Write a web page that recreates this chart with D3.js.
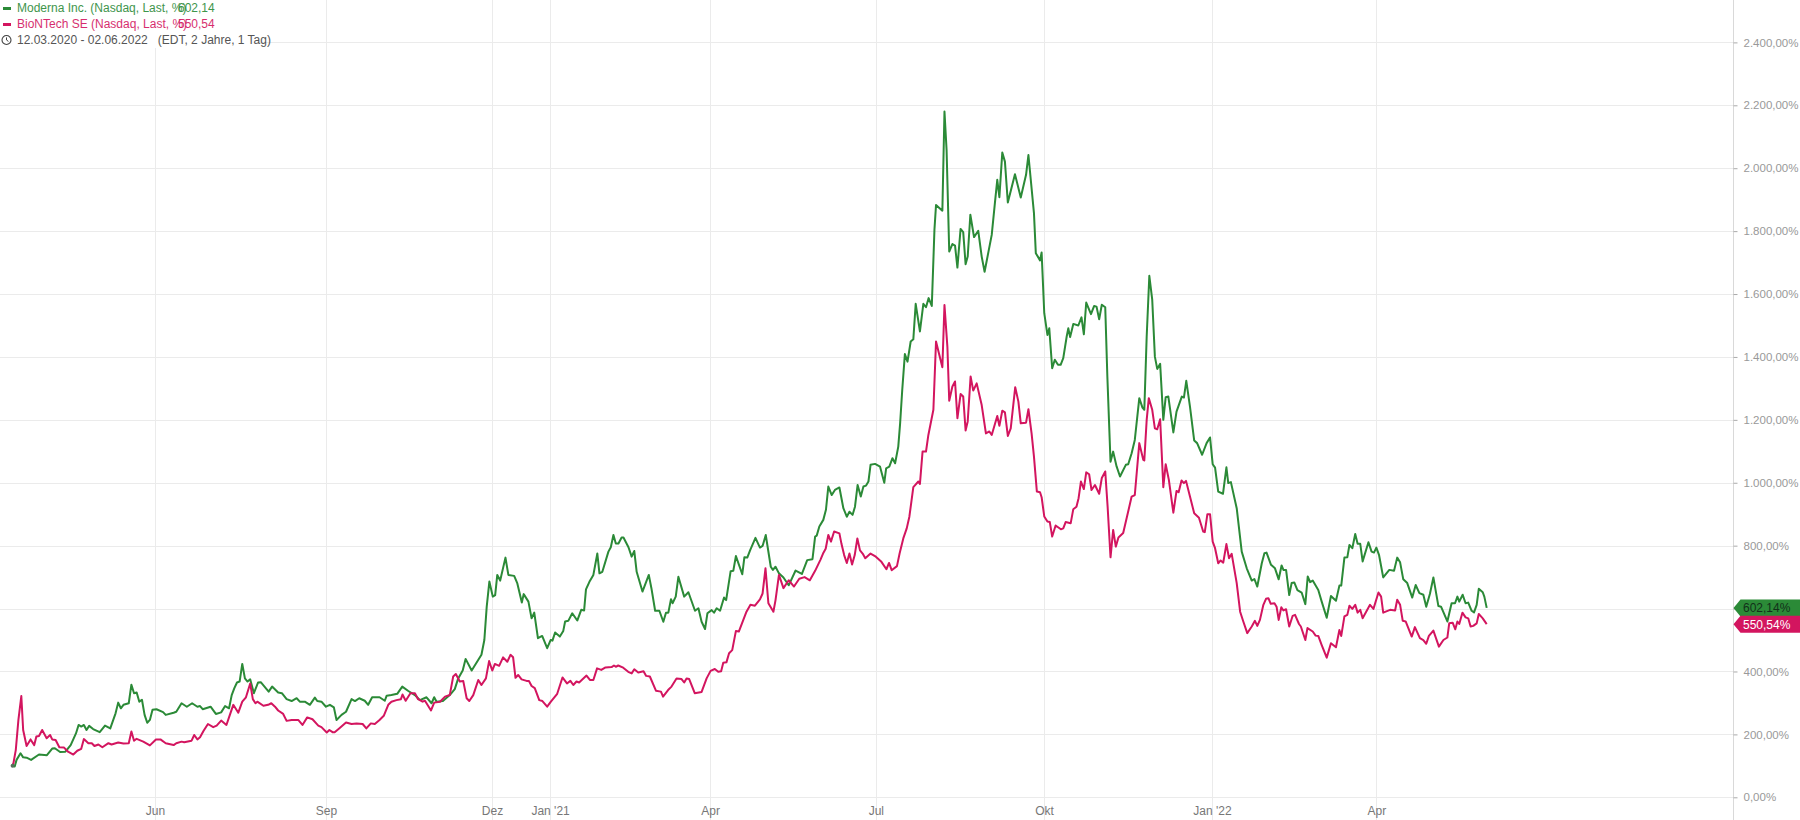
<!DOCTYPE html>
<html>
<head>
<meta charset="utf-8">
<title>Moderna / BioNTech</title>
<script src="https://cdn.jsdelivr.net/npm/d3@7"></script>
<style>
  html, body { margin: 0; padding: 0; background: #fff; }
  svg { display: block; font-family: "Liberation Sans", Arial, sans-serif; }
</style>
</head>
<body>
<div id="chart"></div>
<script>
// values: [trading day since 12.03.2020, percent]
var moderna = [[0,100],[0.8,98],[1.5,119],[3,140],[4,127],[5.3,126],[7,119],[10,136],[13,134],[15,155],[16,156],[18,144],[20,145],[22,166],[24,203],[25,230],[26,225],[27,230],[28,214],[29,227],[30.5,217],[33,207],[35,228],[37,219],[39,267],[40,301],[41,283],[42,294],[44,299],[45,358],[46,331],[47,333],[48,304],[49,310],[50,262],[51,237],[52,246],[53,278],[54.5,280],[57,271],[58,262],[61,269],[62,272],[64,299],[66,288],[68,299],[70,288],[71,290],[72,280],[75,288],[77,265],[79,270],[80.5,290],[82,283],[83,325],[84,347],[85,365],[86,368],[87,424],[88,378],[89,368],[90,375],[91.4,331],[93,365],[94,366],[97,336],[98.3,352],[100.6,333],[102,331],[103.8,312],[105.7,306],[107.6,315],[108.8,304],[110.7,304],[112.6,294],[114.5,317],[115.4,306],[117,304],[118.7,288],[120.2,294],[121.7,286],[122.7,246],[124.6,262],[126.3,272],[128.4,312],[129.7,306],[131.3,315],[133.4,307],[134.7,294],[136.2,318],[139,318],[141,307],[141.7,323],[143.5,325],[145.7,329],[147.6,352],[149.9,338],[152.4,325],[154.3,309],[156.8,318],[158.7,299],[159.7,318],[160.6,304],[163,306],[165.6,325],[167.5,344],[168.8,378],[170.5,403],[171.6,440],[173.9,403],[177.6,453],[178.7,500],[179.6,606],[180.6,686],[181.9,638],[182.8,643],[183.6,707],[184.7,689],[186.7,762],[187.8,707],[190,704],[191.2,680],[192.9,619],[193.6,646],[195.4,622],[196.6,569],[197.6,587],[199,506],[200.6,513],[202.5,474],[203.8,500],[204.5,498],[205.5,524],[207.3,511],[208.6,529],[209.3,559],[210.5,561],[212,585],[213.9,562],[215.4,596],[216.5,594],[217.2,661],[218.5,685],[220,707],[221.5,775],[222.3,712],[223.4,717],[225.7,781],[226.6,795],[227.6,834],[228.5,807],[229.5,807],[230.7,826],[231.4,826],[233.3,795],[234.5,765],[235.5,783],[236.4,717],[238.6,654],[241,707],[242,664],[243.4,593],[245,593],[246.5,558],[247.5,587],[248.4,587],[249.4,630],[250,617],[251.2,638],[252.2,701],[254.4,638],[256,652],[258.5,593],[259.8,601],[261,558],[262.3,535],[263.2,585],[264.8,595],[265.7,587],[266.7,601],[268,593],[269.5,635],[270.3,627],[272,719],[273,720],[274,767],[276.4,709],[277.2,763],[278.3,762],[279.4,786],[281.4,825],[283.1,794],[284.1,799],[285.3,834],[287.2,733],[288,723],[289,733],[290.3,712],[292,699],[294,674],[296.6,721],[299,710],[301,754],[303,757],[304,829],[304.6,832],[305.6,861],[307.1,882],[308.1,914],[309,988],[310.3,961],[311.5,977],[313.2,985],[314.7,919],[316,892],[317,908],[318.2,898],[319.1,924],[320.1,993],[321.3,956],[322.3,988],[323.3,991],[324.2,1004],[325,1057],[326.7,1060],[328.6,1051],[330.2,1000],[330.9,1046],[332.1,1051],[333.3,1078],[334.3,1062],[335.5,1115],[336.2,1189],[337,1295],[338,1409],[339,1385],[340.2,1449],[341.2,1456],[342.1,1569],[343.7,1481],[345,1569],[346,1558],[347,1587],[348.2,1562],[349.2,1804],[349.8,1883],[352.2,1865],[353,2180],[353.8,2058],[354.8,1735],[356,1759],[357,1754],[357.9,1684],[359.1,1807],[360.1,1797],[361,1695],[361.8,1719],[362.8,1852],[364.2,1781],[365.8,1801],[367.1,1719],[368.2,1671],[370.9,1788],[372.1,1889],[373,1963],[373.8,1908],[374.9,2050],[375.9,2021],[377,1891],[379.7,1981],[381.9,1907],[383.9,1979],[384.8,2042],[386.9,1857],[387.6,1730],[389.2,1707],[389.8,1732],[390.8,1539],[392,1470],[392.7,1491],[393.8,1364],[394.8,1391],[396,1375],[397,1375],[398,1396],[399.3,1465],[399.9,1491],[400.6,1463],[401.8,1505],[403.7,1500],[404.9,1526],[405.8,1472],[406.7,1573],[408.5,1536],[409.7,1562],[410.6,1560],[411.6,1520],[412.6,1566],[413.9,1558],[414.7,1338],[415.9,1067],[416.9,1099],[418.2,1052],[419.5,1020],[421.7,1057],[422.6,1059],[423.9,1094],[425.1,1136],[426.8,1269],[428,1239],[428.7,1232],[429.6,1465],[430.6,1658],[431.7,1582],[432.7,1401],[433.6,1362],[434.7,1378],[435.9,1200],[436.8,1272],[437.8,1274],[439.7,1160],[440.9,1226],[442.9,1274],[443.7,1271],[444.6,1324],[446,1242],[447.6,1134],[448.7,1126],[450.6,1089],[452.3,1126],[453.6,1144],[454.6,1059],[455.5,1048],[456.7,972],[458.5,965],[459.8,1049],[460.5,999],[461.5,1002],[463.7,919],[465.6,781],[467.5,728],[469.4,689],[470.4,694],[471.5,670],[473.2,744],[474.2,776],[475,778],[476.7,739],[478.2,728],[479.6,693],[480.7,737],[481.4,723],[482.4,723],[483.6,643],[484.5,681],[485.5,683],[486.7,659],[488.3,651],[489.7,614],[490.6,702],[491.5,684],[492.5,689],[494.6,659],[495.9,622],[497.8,571],[499.4,640],[501.3,625],[502.6,673],[503.3,673],[504.5,762],[505.6,763],[506.4,802],[507.5,792],[508.6,837],[509.5,806],[510.5,806],[511.4,750],[513.6,811],[514.8,781],[515.7,778],[516.6,794],[517.6,771],[519.2,699],[521.5,723],[523.3,720],[524.5,762],[525.6,747],[526.8,693],[528.3,681],[530.2,635],[531.5,675],[532.9,649],[534.4,644],[535.5,606],[536.9,647],[538.2,699],[540.1,608],[541.1,606],[543.5,559],[545.1,617],[546.4,617],[547.3,638],[548,622],[549.3,644],[550.4,617],[551.4,619],[552.7,593],[553.6,588],[554.6,612],[555.4,663],[556.9,652],[557.5,638],[558.4,602.14]];

var biontech = [[0,100],[0.3,108],[1.2,150],[2.2,246],[3.3,322],[4,214],[5.3,163],[6.8,184],[8.2,166],[9,193],[10,195],[11.2,214],[12.9,188],[14.2,198],[15,184],[16.3,182],[17.7,159],[19.5,158],[21,145],[23,136],[24.5,148],[26,154],[27,185],[28.7,172],[30,172],[31,163],[32.5,168],[34,159],[36.3,172],[37.5,168],[40,174],[42,171],[44,172],[45,209],[46,180],[47,186],[49.5,177],[52,165],[54.3,184],[56,184],[58,172],[61,166],[62,172],[64,177],[65,175],[67.8,180],[68.8,198],[70,184],[71,191],[72.3,211],[74,233],[76,223],[77.3,228],[79,244],[81,230],[82.3,262],[83.6,294],[85.5,269],[87,304],[88.4,318],[90,362],[91,312],[92,299],[92.7,304],[95,291],[96.8,294],[98,299],[99.4,288],[100.6,276],[102.5,265],[103.8,243],[105.7,246],[107,246],[108.2,246],[109.8,230],[111.6,254],[113.6,248],[115.8,228],[117,223],[119,206],[120,214],[121.2,207],[122,207],[123.7,219],[126.3,238],[128.4,233],[130.3,235],[132.6,233],[134,219],[135.7,235],[137.2,233],[139,246],[140.6,259],[142.3,294],[143.5,304],[145.4,309],[147.1,312],[147.7,327],[148.9,307],[150.7,331],[152.4,331],[153.6,312],[155.3,304],[156.2,307],[158.5,276],[159.7,301],[161.9,304],[163.8,320],[165.6,325],[166.9,384],[167.9,392],[169.4,368],[170.7,370],[172,315],[173,306],[174.5,325],[176.4,373],[177.6,357],[179.3,378],[180.5,433],[181.7,403],[182.7,424],[184.3,418],[185.8,445],[187.4,431],[188.6,453],[189.6,445],[190.5,380],[191.5,389],[192.8,375],[194.7,370],[195.6,370],[196.6,354],[197.8,347],[199.5,309],[200.7,306],[202.5,288],[203.9,304],[206.3,329],[208.3,381],[210,362],[211.3,370],[212.4,357],[213.6,368],[214.6,365],[217.4,387],[218.7,373],[220,373],[221.4,410],[223,405],[224.6,413],[226.9,414],[227.8,419],[228.5,415],[229.4,419],[231.3,412],[233.2,399],[234.5,394],[235.5,407],[237,397],[239,401],[240,386],[241.4,384],[243.7,339],[245.6,336],[246.4,320],[248.3,341],[249.6,352],[251.5,378],[253.4,376],[254.4,365],[255.3,378],[256.3,376],[258.4,331],[261,335],[262.9,378],[264.4,402],[266,408],[267.3,399],[268.4,401],[269.2,428],[270.4,429],[271.4,458],[272.6,468],[274,529],[275.1,527],[278,590],[279.5,612],[281.2,609],[283.1,629],[284.1,648],[285.2,728],[286.3,617],[288.2,590],[289,627],[290.3,707],[292,665],[294,690],[296,670],[298,695],[300,700],[302,690],[304,720],[306,755],[307,775],[308,790],[309,834],[310,813],[311.2,845],[313.2,839],[314,805],[315,770],[316,745],[317,775],[318,740],[319,770],[320,823],[321,785],[322,775],[323,760],[325,775],[327,765],[329,750],[331,725],[332,745],[333,722],[335,735],[336,775],[337.4,823],[338.7,855],[339.7,892],[341.2,986],[343.1,1004],[343.7,996],[344.7,1099],[346,1099],[346.9,1152],[348.8,1232],[349.8,1449],[352.2,1367],[353,1565],[354.1,1433],[354.8,1261],[356,1306],[357,1322],[357.9,1205],[359.1,1282],[360.1,1274],[361,1166],[361.8,1195],[362.9,1338],[363.9,1293],[365.2,1316],[367.1,1247],[368.7,1157],[370,1163],[370.9,1152],[373,1212],[373.8,1181],[374.9,1229],[375.9,1224],[377,1149],[378.1,1173],[379.8,1304],[381,1258],[381.9,1189],[383.9,1191],[384.8,1234],[386,1157],[386.9,1083],[388,972],[389.2,970],[389.8,954],[390.8,893],[392,877],[392.9,875],[393.8,829],[395.1,864],[397.1,852],[398,855],[398.9,875],[400.8,871],[401.8,916],[403,924],[403.8,951],[404.7,1004],[405.8,980],[406.7,1033],[407.8,1027],[408.7,977],[410,993],[411.6,965],[412.6,1015],[413.9,1036],[414.8,924],[415.9,763],[416.9,850],[417.9,797],[418.9,826],[420.7,840],[423.9,956],[425.1,961],[426.8,1126],[428.3,1073],[428.7,1071],[429.6,1200],[430.4,1269],[431.7,1232],[432.7,1173],[433.6,1170],[434.7,1202],[435.9,986],[436.8,1059],[438,1009],[439.7,905],[440.9,974],[441.7,970],[442.8,1007],[443.7,999],[444.5,1006],[446,956],[447.6,903],[449.4,889],[451,845],[451.6,843],[452.6,900],[453.6,900],[454.6,813],[455.5,792],[456.7,744],[457.6,753],[458.6,746],[459.8,805],[460.8,760],[461.8,774],[463.7,681],[465,590],[466.2,559],[467.7,522],[469.4,543],[470.6,561],[471.5,545],[472.5,564],[473.8,612],[474.8,631],[475.7,633],[476.6,615],[478,617],[478.8,606],[479.6,564],[480.6,604],[481.4,594],[482.4,598],[483.6,543],[484.9,577],[485.8,580],[487.3,551],[488,543],[489.7,500],[490.5,538],[492.5,527],[493.6,514],[494.6,513],[495.9,484],[497.8,444],[499.4,490],[501.3,477],[502.6,532],[503.3,513],[504.5,575],[505.6,580],[506.4,609],[507.5,599],[508.6,612],[509.5,587],[510.5,596],[511.4,569],[514.2,612],[515.5,599],[517.4,651],[518.4,638],[519.2,587],[521.8,596],[523.7,594],[524.5,628],[525.6,612],[526.6,561],[527.7,559],[530,511],[531.2,541],[533.1,506],[534.4,500],[535.5,488],[536.5,513],[538.2,530],[540.3,479],[542,500],[543.5,508],[544.2,553],[545.5,555],[546.5,534],[547.3,559],[548,551],[549.2,587],[550.4,572],[551.4,569],[552.3,543],[553.3,545],[554.6,553],[555.4,583],[556.9,569],[558.4,550.54]];

var yTicks = [0, 200, 400, 600, 800, 1000, 1200, 1400, 1600, 1800, 2000, 2200, 2400];
var xTickDays = [53.9, 118.7, 181.6, 203.6, 264.2, 327, 390.7, 454.3, 516.6];
var xTickLabels = ["Jun", "Sep", "Dez", "Jan '21", "Apr", "Jul", "Okt", "Jan '22", "Apr"];
var lastValues = [602.14, 550.54];
var seriesNames = ["Moderna Inc. (Nasdaq, Last, %)", "BioNTech SE (Nasdaq, Last, %)"];
var seriesColors = ["#2b8a37", "#d3155f"];
var tagTextColors = ["#12301a", "#ffffff"];
var lastLabels = ["602,14", "550,54"];
var rangeLabel = "12.03.2020 - 02.06.2022   (EDT, 2 Jahre, 1 Tag)";

var svgWidth = 1800;
var svgHeight = 820;
var axisX = 1733.5;

var svg = d3.select("#chart").append("svg")
  .attr("width", svgWidth)
  .attr("height", svgHeight);

// scales: the x axis counts trading days, so weekends take no room
var xScale = d3.scaleLinear().domain([0, 558.4]).range([12.6, 1486.7]);
var yScale = d3.scaleLinear().domain([0, 2400]).range([797.3, 42.4]);

// grid
var gridColor = "#ebebeb";
svg.append("g").selectAll("line")
  .data(yTicks)
  .enter()
  .append("line")
  .attr("x1", 0)
  .attr("x2", axisX)
  .attr("y1", function (d) { return Math.round(yScale(d)) + 0.5; })
  .attr("y2", function (d) { return Math.round(yScale(d)) + 0.5; })
  .attr("stroke", gridColor);

svg.append("g").selectAll("line")
  .data(xTickDays)
  .enter()
  .append("line")
  .attr("x1", function (d) { return Math.round(xScale(d)) + 0.5; })
  .attr("x2", function (d) { return Math.round(xScale(d)) + 0.5; })
  .attr("y1", 0)
  .attr("y2", svgHeight)
  .attr("stroke", gridColor);

// right axis
svg.append("line")
  .attr("x1", axisX)
  .attr("x2", axisX)
  .attr("y1", 0)
  .attr("y2", svgHeight)
  .attr("stroke", "#d9d9d9");

var deFormat = d3.formatLocale({
  decimal: ",",
  thousands: ".",
  grouping: [3],
  currency: ["", "€"]
}).format(",.2f");

var yAxis = d3.axisRight(yScale)
  .tickValues(yTicks)
  .tickSize(4)
  .tickPadding(6)
  .tickFormat(function (d) { return deFormat(d) + "%"; });

var yAxisGroup = svg.append("g")
  .attr("transform", "translate(" + axisX + ",0)")
  .call(yAxis);
yAxisGroup.select(".domain").remove();
yAxisGroup.selectAll("line").attr("stroke", "#aaa");
yAxisGroup.selectAll("text")
  .attr("fill", "#999")
  .style("font-size", "11.5px")
  .style("font-family", "\"Liberation Sans\", Arial, sans-serif");

// bottom axis labels
var xAxis = d3.axisBottom(xScale)
  .tickValues(xTickDays)
  .tickSize(0)
  .tickPadding(0)
  .tickFormat(function (d, i) { return xTickLabels[i]; });

var xAxisGroup = svg.append("g")
  .attr("transform", "translate(0,806)")
  .call(xAxis);
xAxisGroup.select(".domain").remove();
xAxisGroup.selectAll("text")
  .attr("fill", "#777")
  .style("font-size", "12px")
  .style("font-family", "\"Liberation Sans\", Arial, sans-serif");

// the two lines
var line = d3.line()
  .x(function (d) { return xScale(d[0]); })
  .y(function (d) { return yScale(d[1]); });

[moderna, biontech].forEach(function (series, i) {
  svg.append("path")
    .datum(series)
    .attr("d", line)
    .attr("fill", "none")
    .attr("stroke", seriesColors[i])
    .attr("stroke-width", 2)
    .attr("stroke-linejoin", "round");
});

// dot where both series start
svg.append("circle")
  .attr("cx", xScale(0))
  .attr("cy", yScale(100))
  .attr("r", 2)
  .attr("fill", "#55705a");

// last value tags on the axis
lastValues.forEach(function (v, i) {
  var yMid = yScale(v);
  var h = 8.5;
  svg.append("path")
    .attr("d", "M" + axisX + "," + yMid + "L" + (axisX + 7) + "," + (yMid - h) + "L" + svgWidth + "," + (yMid - h) + "L" + svgWidth + "," + (yMid + h) + "L" + (axisX + 7) + "," + (yMid + h) + "Z")
    .attr("fill", seriesColors[i]);
  svg.append("text")
    .attr("x", 1743)
    .attr("y", yMid + 4.5)
    .attr("fill", tagTextColors[i])
    .style("font-size", "12px")
    .text(lastLabels[i] + "%");
});

// legend, sits on a white box over the grid
svg.append("rect")
  .attr("x", 0)
  .attr("y", 0)
  .attr("width", 254)
  .attr("height", 48)
  .attr("fill", "#fff");

seriesNames.forEach(function (name, i) {
  var legendY = 8 + i * 16;
  svg.append("rect")
    .attr("x", 3)
    .attr("y", legendY - 1)
    .attr("width", 8)
    .attr("height", 3)
    .attr("fill", seriesColors[i]);
  svg.append("text")
    .attr("x", 17)
    .attr("y", legendY + 4)
    .attr("fill", seriesColors[i])
    .style("font-size", "12px")
    .style("opacity", 0.9)
    .text(name);
  svg.append("text")
    .attr("x", 178)
    .attr("y", legendY + 4)
    .attr("fill", seriesColors[i])
    .style("font-size", "12px")
    .style("opacity", 0.9)
    .text(lastLabels[i]);
});

// clock icon and date range
var clock = svg.append("g").attr("transform", "translate(6.5,40)");
clock.append("circle")
  .attr("r", 4.5)
  .attr("fill", "none")
  .attr("stroke", "#444")
  .attr("stroke-width", 1.1);
clock.append("path")
  .attr("d", "M0,-2.6V0L1.9,1.4")
  .attr("fill", "none")
  .attr("stroke", "#444");

svg.append("text")
  .attr("x", 17)
  .attr("y", 44)
  .attr("fill", "#555")
  .style("font-size", "12px")
  .style("white-space", "pre")
  .text(rangeLabel);
</script>
</body>
</html>
